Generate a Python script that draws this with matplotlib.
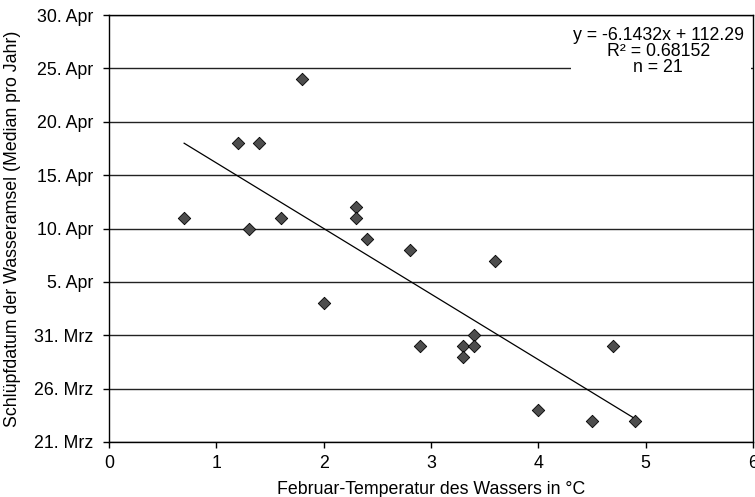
import matplotlib
matplotlib.use('Agg')
import matplotlib.pyplot as plt
from matplotlib.patches import Rectangle
import numpy as np

plt.rcParams['font.family'] = ['Liberation Sans', 'DejaVu Sans']
plt.rcParams['font.size'] = 12.8

# Februar-Temperatur (°C) und Schlüpfdatum (Tag im Jahr)
temp = [0.7, 1.2, 1.4, 1.8, 1.3, 1.6, 2.3, 2.3, 2.4, 2.0, 2.8,
        3.6, 2.9, 3.3, 3.3, 3.4, 3.4, 4.0, 4.5, 4.9, 4.7]
day = [101, 108, 108, 114, 100, 101, 102, 101, 99, 93, 98,
       97, 89, 89, 88, 90, 89, 83, 82, 82, 89]

ytick_pos = [80, 85, 90, 95, 100, 105, 110, 115, 120]
ytick_lab = ['21. Mrz', '26. Mrz', '31. Mrz', '5. Apr', '10. Apr',
             '15. Apr', '20. Apr', '25. Apr', '30. Apr']

fig = plt.figure(figsize=(7.55, 4.97), dpi=100)
ax = fig.add_axes([109/755, 55/497, 644/755, 427/497])

ax.set_yticks(ytick_pos)
ax.set_yticklabels(ytick_lab)
ax.set_ylim(80, 120)
ax.set_xlim(0, 6)
ax.set_xticks(range(7))
ax.yaxis.grid(True, color='#222222', linewidth=1.0)
ax.set_axisbelow(True)

# Regressionsgerade
t = np.array(temp)
d = np.array(day)
slope, icpt = np.polyfit(t, d, 1)
r2 = np.corrcoef(t, d)[0, 1] ** 2
xs = np.array([t.min(), t.max()])
ax.plot(xs, slope * xs + icpt, color='black', linewidth=0.9, zorder=3)

ax.scatter(temp, day, marker='D', s=40, facecolor='#4d4d4d',
           edgecolor='black', linewidth=0.6, zorder=4)

for s in ['left', 'bottom', 'right', 'top']:
    ax.spines[s].set_color('black')
    ax.spines[s].set_linewidth(1.0)
ax.tick_params(axis='y', direction='out', length=4.5, width=1, pad=7, colors='black')
ax.tick_params(axis='x', direction='out', length=4.5, width=1, pad=5, colors='black')

ax.set_xlabel('Februar-Temperatur des Wassers in °C')
ax.set_ylabel('Schlüpfdatum der Wasseramsel (Median pro Jahr)')
ax.xaxis.set_label_coords(0.5, -0.092)
ax.yaxis.set_label_coords(-0.137, 0.5)

# weißes Feld hinter der Gleichung
ax.add_patch(Rectangle((0.717, 0.83), 0.28, 0.15, transform=ax.transAxes,
                       facecolor='white', edgecolor='none', zorder=2))
ax.text(0.853, 0.972, f'y = {slope:.4f}x + {icpt:.2f}\nR² = {r2:.5f}\nn = {len(temp)}',
        transform=ax.transAxes, ha='center', va='top',
        linespacing=0.92, zorder=5)

fig.savefig('out.png', dpi=100)
